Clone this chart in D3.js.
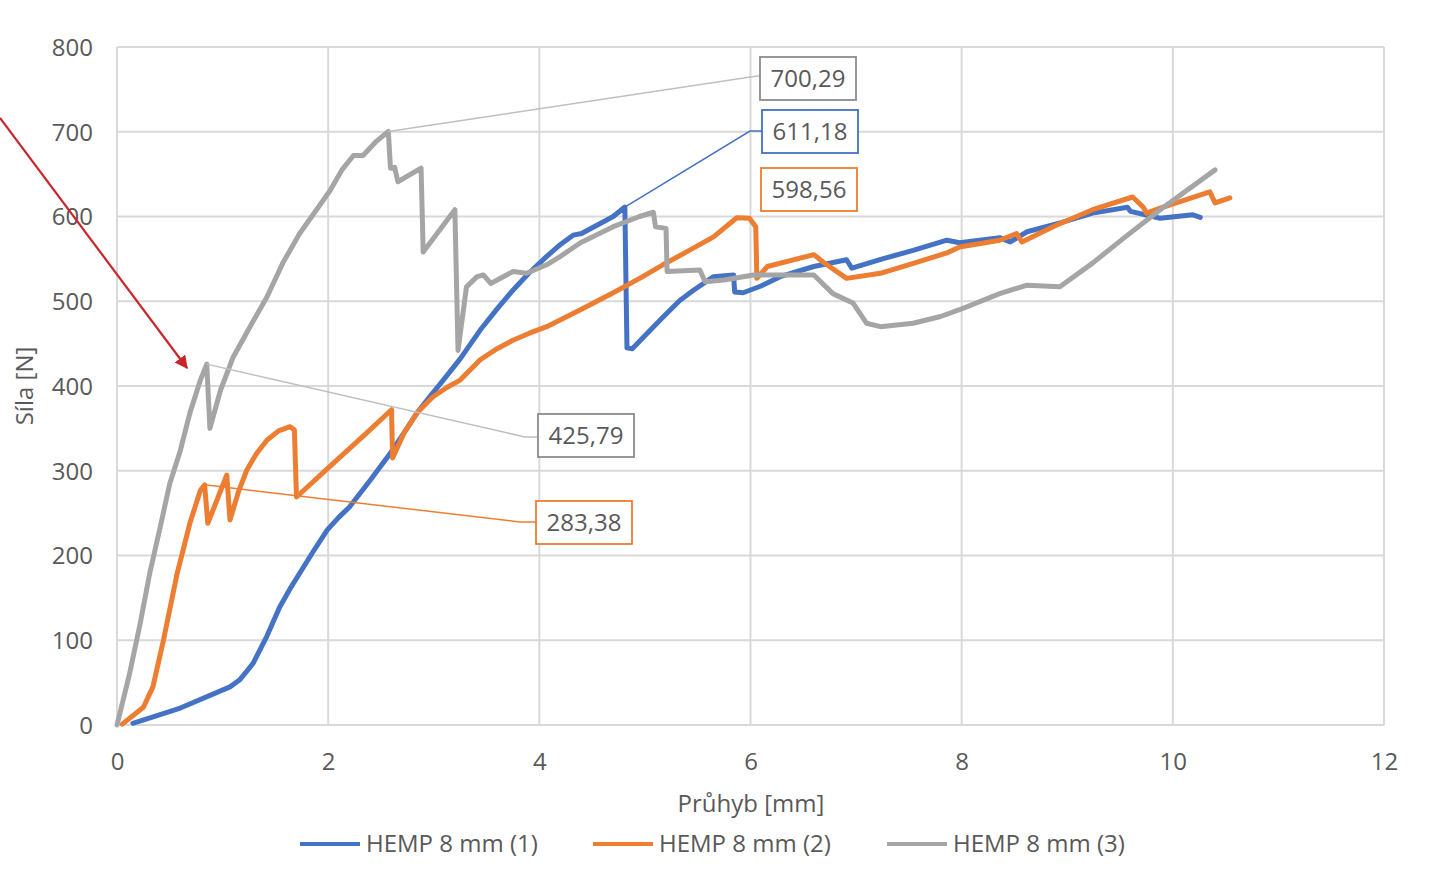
<!DOCTYPE html>
<html>
<head>
<meta charset="utf-8">
<script src="https://cdn.jsdelivr.net/npm/d3@7/dist/d3.min.js"></script>
<style>
  html, body { margin: 0; padding: 0; background: #fff; }
  svg { display: block; }
  text { font-family: "Open Sans", "Noto Sans", sans-serif; fill: #595959; }
</style>
</head>
<body>
<svg id="chart" width="1442" height="872"></svg>
<script>
// Load–deflection curves, [deflection mm, force N]
const hemp1 = [
  [0.15, 2], [0.6, 20], [1.07, 45], [1.16, 53], [1.22, 62], [1.29, 73], [1.42, 105], [1.54, 139],
  [1.65, 163], [1.73, 179], [1.86, 205], [1.99, 230], [2.1, 245], [2.2, 257], [2.4, 289],
  [2.59, 321], [2.72, 345], [2.84, 368], [2.96, 387], [3.09, 407], [3.25, 432], [3.44, 466],
  [3.6, 491], [3.75, 513], [3.9, 533], [4.07, 553], [4.2, 567], [4.32, 578], [4.4, 580],
  [4.55, 590], [4.7, 600], [4.81, 611.18], [4.83, 445], [4.88, 444], [5.02, 462], [5.17, 481],
  [5.33, 501], [5.46, 513], [5.65, 529], [5.84, 531], [5.85, 511], [5.93, 510], [6.1, 518],
  [6.28, 529], [6.6, 541], [6.91, 549], [6.96, 539], [7.25, 550], [7.54, 560], [7.86, 572],
  [7.98, 569], [8.36, 575], [8.46, 570], [8.62, 582], [8.95, 593], [9.24, 604], [9.57, 611],
  [9.6, 606], [9.88, 598], [10.19, 602], [10.26, 599]
];
const hemp2 = [
  [0.05, 1], [0.25, 21], [0.34, 45], [0.44, 100], [0.57, 179], [0.69, 238], [0.79, 277],
  [0.83, 283.38], [0.86, 238], [1.04, 295], [1.07, 242], [1.15, 275], [1.23, 301], [1.32, 320],
  [1.42, 336], [1.53, 347], [1.64, 352], [1.68, 348], [1.7, 269], [2.05, 309], [2.35, 343],
  [2.6, 372], [2.61, 315], [2.72, 345], [2.84, 368], [2.99, 387], [3.12, 398], [3.25, 407],
  [3.44, 431], [3.6, 444], [3.75, 454], [3.9, 462], [4.07, 470], [4.39, 490], [4.7, 510],
  [4.95, 527], [5.17, 543], [5.42, 560], [5.65, 576], [5.87, 598.56], [5.99, 598], [6.05, 588],
  [6.06, 527], [6.16, 541], [6.6, 555], [6.69, 546], [6.91, 527], [7.23, 533], [7.55, 545],
  [7.86, 557], [7.98, 564], [8.36, 572], [8.52, 580], [8.57, 570], [8.9, 590], [9.24, 608],
  [9.62, 623], [9.72, 611], [9.75, 604], [9.88, 610], [10.35, 629], [10.4, 616], [10.54, 622]
];
const hemp3 = [
  [0, 0], [0.12, 61], [0.22, 120], [0.31, 179], [0.41, 234], [0.5, 285], [0.6, 324],
  [0.69, 368], [0.79, 407], [0.85, 425.79], [0.88, 350], [0.98, 395], [1.1, 434], [1.26, 470],
  [1.42, 505], [1.57, 545], [1.73, 580], [1.89, 608], [2.02, 631], [2.13, 655], [2.24, 672],
  [2.33, 672], [2.45, 688], [2.57, 700.29], [2.59, 657], [2.63, 658], [2.66, 641], [2.88, 657],
  [2.9, 558], [3.2, 608], [3.23, 442], [3.31, 517], [3.41, 529], [3.47, 531], [3.54, 521],
  [3.75, 535], [3.88, 533], [4.07, 543], [4.2, 553], [4.39, 569], [4.7, 588], [4.95, 600],
  [5.08, 605], [5.1, 588], [5.2, 586], [5.21, 535], [5.52, 537], [5.57, 523], [5.75, 525],
  [6.03, 531], [6.6, 531], [6.78, 509], [6.97, 498], [7.1, 474], [7.23, 470], [7.54, 474],
  [7.8, 482], [7.98, 490], [8.36, 509], [8.62, 519], [8.93, 517], [9.24, 545], [9.55, 576],
  [9.88, 608], [10.4, 655]
];

const seriesNames = ["HEMP 8 mm (1)", "HEMP 8 mm (2)", "HEMP 8 mm (3)"];
const seriesColors = ["#4472c4", "#ed7d31", "#a5a5a5"];
const xTicks = [0, 2, 4, 6, 8, 10, 12];
const yTicks = [0, 100, 200, 300, 400, 500, 600, 700, 800];
const xTitle = "Průhyb [mm]";
const yTitle = "Síla [N]";

// Annotated peaks: series index and the force value they mark
const callouts = [
  { s: 2, v: 700.29 },
  { s: 0, v: 611.18 },
  { s: 1, v: 598.56 },
  { s: 2, v: 425.79 },
  { s: 1, v: 283.38 }
];
// Callout box placement (pixels) and leader elbow
const calloutLayout = [
  { bx: 760, by: 57, elbow: [757, 76] },
  { bx: 762, by: 110, elbow: [750, 131] },
  { bx: 761, by: 168, elbow: null },
  { bx: 538, by: 414, elbow: [525, 437] },
  { bx: 536, by: 501, elbow: [520, 522] }
];

const FONT = "24px";
const svg = d3.select("#chart");
const x = d3.scaleLinear().domain([0, 12]).range([117, 1384]);
const y = d3.scaleLinear().domain([0, 800]).range([725, 47]);

// Gridlines
svg.append("g").selectAll("line").data(yTicks).join("line")
  .attr("x1", x(0)).attr("x2", x(12))
  .attr("y1", d => y(d)).attr("y2", d => y(d))
  .attr("stroke", "#d9d9d9").attr("stroke-width", 2);
svg.append("g").selectAll("line").data(xTicks).join("line")
  .attr("x1", d => x(d)).attr("x2", d => x(d))
  .attr("y1", y(0)).attr("y2", y(800))
  .attr("stroke", "#d9d9d9").attr("stroke-width", 2);

// Axes (labels only; lines are drawn by the grid)
const xAxis = svg.append("g").attr("transform", `translate(0,${y(0)})`)
  .call(d3.axisBottom(x).tickValues(xTicks).tickSize(0).tickPadding(28).tickFormat(d3.format("d")));
const yAxis = svg.append("g").attr("transform", `translate(${x(0)},0)`)
  .call(d3.axisLeft(y).tickValues(yTicks).tickSize(0).tickPadding(24).tickFormat(d3.format("d")));
[xAxis, yAxis].forEach(g => {
  g.select(".domain").remove();
  g.selectAll("text").style("font-size", FONT).attr("fill", "#595959")
    .style("font-family", "\"Open Sans\", sans-serif");
});
yAxis.selectAll("text").attr("dy", "0.35em");

// Axis titles
svg.append("text").attr("x", 751).attr("y", 812).attr("text-anchor", "middle")
  .style("font-size", FONT).text(xTitle);
svg.append("text").attr("transform", "translate(33,386) rotate(-90)").attr("text-anchor", "middle")
  .style("font-size", FONT).text(yTitle);

// Curves
const line = d3.line().x(d => x(d[0])).y(d => y(d[1]));
const allSeries = [hemp1, hemp2, hemp3];
svg.append("g").selectAll("path").data(allSeries).join("path")
  .attr("d", line).attr("fill", "none")
  .attr("stroke", (d, i) => seriesColors[i])
  .attr("stroke-width", 5).attr("stroke-linejoin", "round").attr("stroke-linecap", "round");

// Callouts
const fmt = v => d3.format(".2f")(v).replace(".", ",");
const cg = svg.append("g");
callouts.forEach((c, k) => {
  const p = allSeries[c.s].find(d => d[1] === c.v);
  const L = calloutLayout[k];
  const col = seriesColors[c.s];
  const stroke = c.s === 2 ? "#8c8c8c" : col;
  const bw = 96, bh = 43;
  if (L.elbow) {
    cg.append("polyline")
      .attr("points", `${x(p[0])},${y(p[1])} ${L.elbow[0]},${L.elbow[1]} ${L.bx},${L.elbow[1]}`)
      .attr("fill", "none").attr("stroke", c.s === 2 ? "#bfbfbf" : col).attr("stroke-width", 1.5);
  }
  cg.append("rect").attr("x", L.bx).attr("y", L.by).attr("width", bw).attr("height", bh)
    .attr("fill", "#fff").attr("stroke", stroke).attr("stroke-width", 1.8);
  cg.append("text").attr("x", L.bx + bw / 2).attr("y", L.by + bh / 2).attr("dy", "0.35em")
    .attr("text-anchor", "middle").style("font-size", FONT).attr("fill", "#404040")
    .text(fmt(c.v));
});

// Legend
const legendX = [300, 593, 887];
const lg = svg.append("g");
seriesNames.forEach((n, i) => {
  lg.append("line").attr("x1", legendX[i]).attr("x2", legendX[i] + 60)
    .attr("y1", 844).attr("y2", 844).attr("stroke", seriesColors[i]).attr("stroke-width", 4);
  lg.append("text").attr("x", legendX[i] + 66).attr("y", 844).attr("dy", "0.35em")
    .style("font-size", FONT).text(n);
});

// Red pointer arrow
const defs = svg.append("defs");
defs.append("marker").attr("id", "arrowhead").attr("viewBox", "0 0 10 10")
  .attr("refX", 9).attr("refY", 5).attr("markerWidth", 6).attr("markerHeight", 6)
  .attr("orient", "auto").attr("markerUnits", "strokeWidth")
  .append("path").attr("d", "M0,0 L10,5 L0,10 z").attr("fill", "#c8262b");
svg.append("line").attr("x1", 0).attr("y1", 118).attr("x2", 187).attr("y2", 368)
  .attr("stroke", "#c8262b").attr("stroke-width", 2.2).attr("marker-end", "url(#arrowhead)");
</script>
</body>
</html>
